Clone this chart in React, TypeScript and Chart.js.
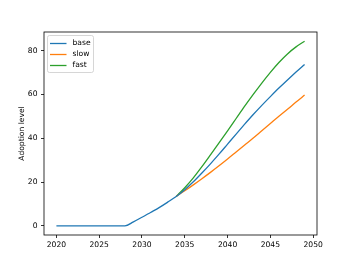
import React, { useEffect, useRef } from "react";
import { Chart, registerables } from "chart.js";

Chart.register(...registerables);

const years: number[] = [];
for (let y = 2020; y <= 2049; y++) years.push(y);

const baseValues = [
  0, 0, 0, 0, 0, 0, 0, 0, 0, 1.8, 3.9, 6.1, 8.3, 10.8, 13.4,
  16.5, 20.1, 24.1, 28.3, 32.7, 37.3, 41.9, 46.4, 50.8, 55.0, 59.0, 62.9, 66.6, 70.2, 73.7,
];
const slowYears = [2034, 2035, 2036, 2037, 2038, 2039, 2040, 2041, 2042, 2043, 2044, 2045, 2046, 2047, 2048, 2049];
const slowValues = [13.4, 16.0, 18.7, 21.5, 24.4, 27.4, 30.5, 33.7, 36.9, 40.1, 43.4, 46.7, 50.0, 53.2, 56.5, 59.7];
const fastValues = [13.4, 17.4, 21.9, 27.0, 32.4, 37.9, 43.4, 49.0, 54.6, 60.0, 65.2, 70.1, 74.6, 78.5, 81.7, 84.3];

const seriesNames = ["base", "slow", "fast"];
const seriesColors = ["#1f77b4", "#ff7f0e", "#2ca02c"];
const xTicks = [2020, 2025, 2030, 2035, 2040, 2045, 2050];
const yTicks = [0, 20, 40, 60, 80];
const yTitle = "Adoption level";

const FONT = "'DejaVu Sans', sans-serif";
const FS = 7.6;
const LW = 1.3;

const framePlugin = {
  id: "frame",
  afterDatasetsDraw(chart: any) {
    const { ctx, chartArea } = chart;
    ctx.save();
    ctx.strokeStyle = "#000";
    ctx.lineWidth = 0.8;
    ctx.strokeRect(chartArea.left, chartArea.top, chartArea.right - chartArea.left, chartArea.bottom - chartArea.top);
    // legend
    const lx = chartArea.left + 3.5;
    const ly = chartArea.top + 3.5;
    const lw = 46;
    const lh = 37;
    ctx.beginPath();
    const r = 2;
    ctx.moveTo(lx + r, ly);
    ctx.lineTo(lx + lw - r, ly);
    ctx.quadraticCurveTo(lx + lw, ly, lx + lw, ly + r);
    ctx.lineTo(lx + lw, ly + lh - r);
    ctx.quadraticCurveTo(lx + lw, ly + lh, lx + lw - r, ly + lh);
    ctx.lineTo(lx + r, ly + lh);
    ctx.quadraticCurveTo(lx, ly + lh, lx, ly + lh - r);
    ctx.lineTo(lx, ly + r);
    ctx.quadraticCurveTo(lx, ly, lx + r, ly);
    ctx.closePath();
    ctx.fillStyle = "rgba(255,255,255,0.8)";
    ctx.fill();
    ctx.strokeStyle = "#cccccc";
    ctx.lineWidth = 0.8;
    ctx.stroke();
    ctx.font = `${FS}px ${FONT}`;
    ctx.textBaseline = "middle";
    ctx.textAlign = "left";
    seriesNames.forEach((name, i) => {
      const yy = Math.round(ly + 7 + i * 11) + 0.5;
      ctx.strokeStyle = seriesColors[i];
      ctx.lineWidth = LW;
      ctx.beginPath();
      ctx.moveTo(lx + 2.5, yy);
      ctx.lineTo(lx + 19, yy);
      ctx.stroke();
      ctx.fillStyle = "#000";
      ctx.fillText(name, lx + 25, yy);
    });
    ctx.restore();
  },
};

export default function App() {
  const ref = useRef<HTMLCanvasElement | null>(null);
  useEffect(() => {
    document.body.style.margin = "0";
    const canvas = ref.current!;
    const toPts = (xs: number[], ys: number[]) => xs.map((x, i) => ({ x, y: ys[i] }));
    const chart = new Chart(canvas, {
      type: "line",
      data: {
        datasets: [
          { label: seriesNames[0], data: toPts(years, baseValues), borderColor: seriesColors[0] },
          { label: seriesNames[1], data: toPts(slowYears, slowValues), borderColor: seriesColors[1] },
          { label: seriesNames[2], data: toPts(slowYears, fastValues), borderColor: seriesColors[2] },
        ].map((d) => ({ ...d, borderWidth: LW, pointRadius: 0, cubicInterpolationMode: "monotone", fill: false })),
      },
      options: {
        responsive: false,
        animation: false,
        layout: { padding: { left: 0, right: 35, top: 32, bottom: 0 } },
        plugins: { legend: { display: false }, tooltip: { enabled: false } },
        scales: {
          x: {
            type: "linear",
            min: 2018.55,
            max: 2050.45,
            afterBuildTicks: (s: any) => { s.ticks = xTicks.map((v) => ({ value: v })); },
            afterFit: (s: any) => { s.height = 29; },
            grid: { drawOnChartArea: false, drawTicks: true, tickLength: 3, tickColor: "#000", tickWidth: 0.8 },
            border: { display: false },
            ticks: {
              color: "#000",
              font: { family: FONT, size: FS },
              padding: 2.5,
              maxRotation: 0,
              autoSkip: false,
              callback: (v: any) => String(v),
            },
          },
          y: {
            type: "linear",
            min: -4.2,
            max: 88.5,
            afterBuildTicks: (s: any) => { s.ticks = yTicks.map((v) => ({ value: v })); },
            afterFit: (s: any) => { s.width = 44; },
            grid: { drawOnChartArea: false, drawTicks: true, tickLength: 3, tickColor: "#000", tickWidth: 0.8 },
            border: { display: false },
            ticks: { color: "#000", font: { family: FONT, size: FS }, padding: 3.5, callback: (v: any) => String(v) },
            title: { display: true, text: yTitle, color: "#000", font: { family: FONT, size: FS }, padding: { top: 17, bottom: 0 } },
          },
        },
      },
      plugins: [framePlugin],
    } as any);
    return () => chart.destroy();
  }, []);
  return (
    <div style={{ width: 352, height: 264, background: "#fff" }}>
      <canvas ref={ref} width={352} height={264} style={{ display: "block" }} />
    </div>
  );
}
